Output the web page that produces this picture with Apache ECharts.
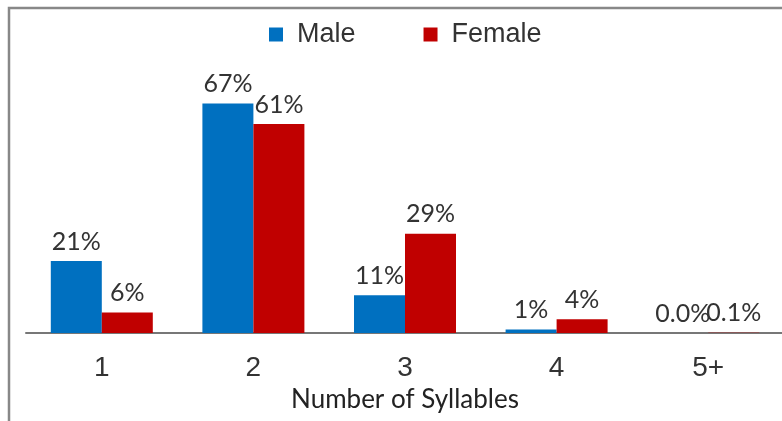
<!DOCTYPE html>
<html>
<head>
<meta charset="utf-8">
<style>
  html, body { margin: 0; padding: 0; background: #fff; }
  #chart { width: 782px; height: 421px; }
</style>
<script src="https://cdn.jsdelivr.net/npm/echarts@6/dist/echarts.min.js"></script>
</head>
<body>
<div id="chart"></div>
<script>
// Share of names by syllable count, split by gender (percent)
const categories = ['1', '2', '3', '4', '5+'];
const maleValues = [21, 67, 11, 1, 0.0];
const femaleValues = [6, 61, 29, 4, 0.1];
const seriesNames = ['Male', 'Female'];
const axisTitle = 'Number of Syllables';

const MALE_COLOR = '#0070C0';
const FEMALE_COLOR = '#C00000';

// Whole numbers for regular shares, one decimal for tiny ones
function pctLabel(p) {
  const v = p.value;
  return (v < 1 ? v.toFixed(1) : Math.round(v).toString()) + '%';
}

const labelStyle = {
  show: true,
  position: 'top',
  distance: 7,
  formatter: pctLabel,
  fontFamily: 'Lato',
  fontSize: 25,
  color: '#333'
};

const chart = echarts.init(document.getElementById('chart'), null, { renderer: 'canvas' });
chart.setOption({
  animation: false,
  backgroundColor: '#fff',
  graphic: [{
    type: 'rect',
    shape: { x: 9, y: 8, width: 800, height: 450 },
    style: { fill: 'none', stroke: '#888', lineWidth: 2.5 },
    silent: true
  }],
  legend: {
    data: seriesNames,
    top: 16,
    left: 264,
    itemWidth: 14,
    itemHeight: 14,
    itemGap: 68,
    icon: 'rect',
    textStyle: { fontFamily: 'Liberation Sans', fontSize: 27, color: '#333', padding: [0, 0, 0, 9] }
  },
  grid: { left: 26, right: -2, top: 59, bottom: 88, containLabel: false, outerBoundsMode: 'none' },
  xAxis: {
    type: 'category',
    data: categories,
    axisLine: { show: true, lineStyle: { color: '#777', width: 2 } },
    axisTick: { show: false },
    axisLabel: { margin: 21, fontFamily: 'Liberation Sans', fontSize: 28, color: '#333' },
    name: axisTitle,
    nameLocation: 'middle',
    nameGap: 54,
    nameTextStyle: { fontFamily: 'Lato', fontSize: 26, color: '#222' }
  },
  yAxis: {
    type: 'value',
    min: 0,
    max: 80,
    show: false,
    splitLine: { show: false }
  },
  series: [
    {
      name: seriesNames[0],
      type: 'bar',
      data: maleValues,
      barWidth: 51,
      barGap: '0%',
      itemStyle: { color: MALE_COLOR },
      label: labelStyle
    },
    {
      name: seriesNames[1],
      type: 'bar',
      data: femaleValues,
      barWidth: 51,
      barGap: '0%',
      itemStyle: { color: FEMALE_COLOR },
      label: labelStyle
    }
  ]
});
</script>
</body>
</html>
